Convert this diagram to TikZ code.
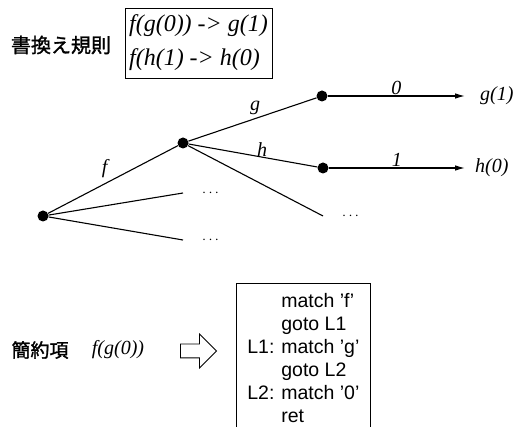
\documentclass[tikz,border=0pt]{standalone}
\usepackage{fontspec}
\setmainfont{Liberation Serif}
\setsansfont{Liberation Sans}
\newfontfamily\jpfont{Noto Sans CJK JP}[FakeBold=1.5]
\usepackage{tikz}
\usetikzlibrary{arrows.meta,positioning,shapes.arrows}
\newcommand{\lab}[1]{\makebox[34pt][l]{#1}}
\tikzset{
  vtx/.style={circle, fill=black, inner sep=0pt, minimum size=11pt},
  edge/.style={line width=1.1pt},
  leaf/.style={-{Latex[length=10pt,width=5.5pt]}, line width=1.1pt},
  lbl/.style={font=\fontsize{20}{24}\selectfont\itshape, inner sep=1pt},
  more/.style={font=\Large, inner sep=0pt},
  jp/.style={font=\fontsize{19}{22}\selectfont\jpfont, inner sep=1pt},
  rulebox/.style={draw, line width=0.8pt, align=left, inner xsep=4pt, inner ysep=4pt,
                  font=\fontsize{24}{34}\selectfont\itshape},
  codebox/.style={draw, line width=0.8pt, anchor=north west, align=left, inner sep=0pt,
                  font=\fontsize{19.5}{23}\selectfont\sffamily},
  imply/.style={draw, single arrow, single arrow head extend=10pt, minimum height=36pt,
                inner sep=6.5pt, line width=0.8pt}
}
\begin{document}
\begin{tikzpicture}[x=1pt, y=-1pt, node distance=3mm]
   \useasboundingbox (0,0) rectangle (514,427);
   \node[jp, font=\fontsize{20}{22}\selectfont\jpfont] (title) at (61,45) {書換え規則};
   \node[rulebox, minimum width=147pt, minimum height=70pt] (rules) at (198.5,43) {f(g(0)) -> g(1)\\f(h(1) -> h(0)};
   \node[vtx] (r) at (43,216) {};
   \node[vtx] (a) at (183,143) {};
   \node[vtx] (b) at (322,96) {};
   \node[vtx] (c) at (323,168) {};
   \coordinate (gb) at (465,96);
   \coordinate (hc) at (465,168);
   \coordinate (e1) at (183,193);
   \coordinate (e2) at (183,240);
   \coordinate (e3) at (323,216);
   \draw[edge] (r) -- node[lbl, midway, above left, xshift=-4pt] {f} (a);
   \draw[edge] (a) -- node[lbl, pos=0.52, above=2pt] {g} (b);
   \draw[edge] (a) -- node[lbl, pos=0.57, anchor=south, inner sep=0pt] {h} (c);
   \draw[edge] (r) -- (e1);
   \draw[edge] (r) -- (e2);
   \draw[edge] (a) -- (e3);
   \node[more, right=19pt of e1] (d1) {$\cdots$};
   \node[more, right=19pt of e2] (d2) {$\cdots$};
   \node[more, right=19pt of e3] (d3) {$\cdots$};
   \draw[leaf] (b) -- node[lbl, above] {0} (gb);
   \draw[leaf] (c) -- node[lbl, above] {1} (hc);
   \node[lbl, right=14pt of gb] (gout) {g(1)};
   \node[lbl, right=9pt of hc] (hout) {h(0)};
   \node[jp] (redex) at (40,350) {簡約項};
   \node[lbl, right=21pt of redex] (term) {f(g(0))};
   \node[imply] (imp) at (195,351) {};
   \node[codebox, minimum width=134pt, minimum height=150pt] (code) at (236,283) {\lab{}match 'f'\\\lab{}goto L1\\\lab{L1:}match 'g'\\\lab{}goto L2\\\lab{L2:}match '0'\\\lab{}ret};
\end{tikzpicture}
\end{document}
